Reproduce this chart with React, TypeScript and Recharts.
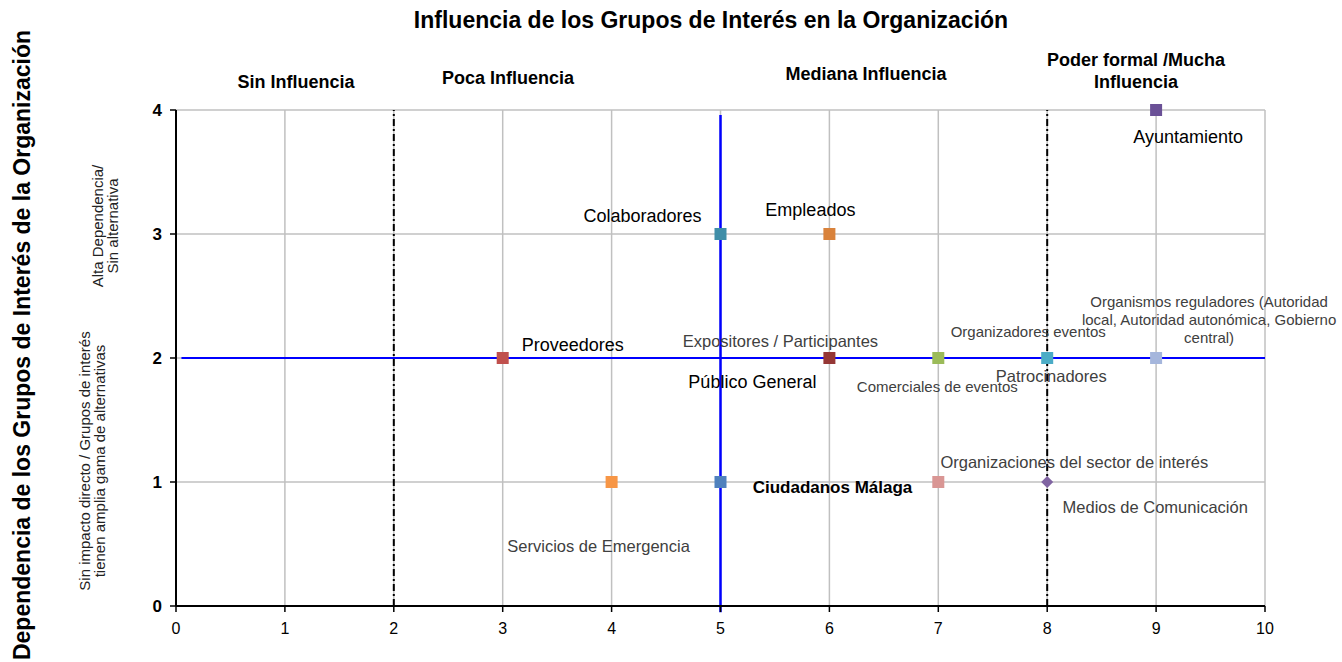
import {
  ScatterChart,
  Scatter,
  XAxis,
  YAxis,
  CartesianGrid,
  ReferenceLine,
} from "recharts";

// Puntos del gráfico (influencia, dependencia)
const grupos = [
  "Ayuntamiento",
  "Colaboradores",
  "Empleados",
  "Proveedores",
  "Público General",
  "Comerciales de eventos",
  "Patrocinadores",
  "Organismos reguladores",
  "Servicios de Emergencia",
  "Ciudadanos Málaga",
  "Organizaciones del sector de interés",
  "Medios de Comunicación",
];
const influencia = [9, 5, 6, 3, 6, 7, 8, 9, 4, 5, 7, 8];
const dependencia = [4, 3, 3, 2, 2, 2, 2, 2, 1, 1, 1, 1];
const colores = [
  "#6a5096",
  "#3f8ea8",
  "#d9823b",
  "#c0504d",
  "#953735",
  "#9bbb59",
  "#4bacc6",
  "#a5b6dc",
  "#f79646",
  "#4f81bd",
  "#d99694",
  "#8064a2",
];
const formas = ["sq", "sq", "sq", "sq", "sq", "sq", "sq", "sq", "sq", "sq", "sq", "diamond"];

// Etiquetas de texto ancladas a un punto
const etiquetas = [
  "Ayuntamiento",
  "Colaboradores",
  "Empleados",
  "Proveedores",
  "Expositores / Participantes",
  "Público General",
  "Comerciales de eventos",
  "Organizadores eventos",
  "Patrocinadores",
  "Organismos reguladores (Autoridad\nlocal, Autoridad autonómica, Gobierno\ncentral)",
  "Servicios de Emergencia",
  "Ciudadanos Málaga",
  "Organizaciones del sector de interés",
  "Medios de Comunicación",
];
const etiquetaX = [9, 5, 6, 3, 6, 6, 7, 8, 8, 9, 4, 5, 7, 8];
const etiquetaY = [4, 3, 3, 2, 2, 2, 2, 2, 2, 2, 1, 1, 1, 1];

// desplazamiento en px, tamaño y estilo de cada etiqueta
const etiquetaLayout = [
  { dx: 32, dy: 27, size: 18, tono: "negro" },
  { dx: -78, dy: -18, size: 18, tono: "negro" },
  { dx: -19, dy: -24, size: 18, tono: "negro" },
  { dx: 70, dy: -13, size: 18, tono: "negro" },
  { dx: -49, dy: -17, size: 16.5, tono: "gris" },
  { dx: -77, dy: 24, size: 18, tono: "negro" },
  { dx: -1, dy: 28, size: 15, tono: "gris" },
  { dx: -19, dy: -27, size: 15, tono: "gris" },
  { dx: 4, dy: 18, size: 16.5, tono: "gris" },
  { dx: 53, dy: -39, size: 15, tono: "gris" },
  { dx: -13, dy: 64, size: 16.5, tono: "gris" },
  { dx: 112, dy: 5, size: 17, tono: "negrita" },
  { dx: 136, dy: -20, size: 16.5, tono: "gris" },
  { dx: 108, dy: 25, size: 16.5, tono: "gris" },
];

const xTicks = [0, 1, 2, 3, 4, 5, 6, 7, 8, 9, 10];
const yTicks = [0, 1, 2, 3, 4];

const cabeceras = [
  { texto: "Sin Influencia", x: 296, y: 82 },
  { texto: "Poca Influencia", x: 508, y: 78 },
  { texto: "Mediana Influencia", x: 866, y: 74 },
  { texto: "Poder formal /Mucha\nInfluencia", x: 1136, y: 71 },
];

const FONT = "'Liberation Sans', Arial, sans-serif";

const puntos = grupos.map((name, i) => ({
  name,
  x: influencia[i],
  y: dependencia[i],
  color: colores[i],
  forma: formas[i],
}));

const textos = etiquetas.map((texto, i) => ({
  texto,
  x: etiquetaX[i],
  y: etiquetaY[i],
  ...etiquetaLayout[i],
}));

const Punto = (props: any) => {
  const { cx, cy, payload } = props;
  if (payload.forma === "diamond") {
    const r = 6;
    return (
      <path
        d={`M${cx},${cy - r}L${cx + r},${cy}L${cx},${cy + r}L${cx - r},${cy}Z`}
        fill={payload.color}
      />
    );
  }
  return <rect x={cx - 6} y={cy - 6} width={12} height={12} fill={payload.color} />;
};

const Etiqueta = (props: any) => {
  const { cx, cy, payload } = props;
  const lineas = payload.texto.split("\n");
  const lh = 18;
  const y0 = cy + payload.dy - ((lineas.length - 1) * lh) / 2;
  const gris = payload.tono === "gris";
  const negrita = payload.tono === "negrita";
  return (
    <text
      x={cx + payload.dx}
      y={y0}
      textAnchor="middle"
      dominantBaseline="central"
      fontFamily={FONT}
      fontSize={payload.size}
      fontWeight={negrita ? "bold" : "normal"}
      fill={gris ? "#404040" : "#000"}
    >
      {lineas.map((l: string, i: number) => (
        <tspan key={i} x={cx + payload.dx} y={y0 + i * lh}>
          {l}
        </tspan>
      ))}
    </text>
  );
};

export default function App() {
  return (
    <div
      style={{
        position: "absolute",
        left: 0,
        top: 0,
        width: 1342,
        height: 662,
        background: "#fff",
        fontFamily: FONT,
        overflow: "hidden",
      }}
    >
      <div
        style={{
          position: "absolute",
          left: 711,
          top: 20,
          transform: "translate(-50%, -50%)",
          whiteSpace: "nowrap",
          fontSize: 23,
          fontWeight: "bold",
        }}
      >
        Influencia de los Grupos de Interés en la Organización
      </div>
      {cabeceras.map((c, i) => (
        <div
          key={i}
          style={{
            position: "absolute",
            left: c.x,
            top: c.y,
            transform: "translate(-50%, -50%)",
            whiteSpace: "pre",
            textAlign: "center",
            fontSize: 18,
            fontWeight: "bold",
            lineHeight: "22px",
          }}
        >
          {c.texto}
        </div>
      ))}
      <div
        style={{
          position: "absolute",
          left: 22,
          top: 345,
          transform: "translate(-50%, -50%) rotate(-90deg)",
          whiteSpace: "nowrap",
          fontSize: 23,
          fontWeight: "bold",
        }}
      >
        Dependencia de los Grupos de Interés de la Organización
      </div>
      <div
        style={{
          position: "absolute",
          left: 105,
          top: 226,
          transform: "translate(-50%, -50%) rotate(-90deg)",
          whiteSpace: "pre",
          textAlign: "center",
          fontSize: 15,
          lineHeight: "15px",
          color: "#222",
        }}
      >
        {"Alta Dependencia/\nSin alternativa"}
      </div>
      <div
        style={{
          position: "absolute",
          left: 92,
          top: 461,
          transform: "translate(-50%, -50%) rotate(-90deg)",
          whiteSpace: "pre",
          textAlign: "center",
          fontSize: 15,
          lineHeight: "15px",
          color: "#222",
        }}
      >
        {"Sin impacto directo / Grupos de interés\ntienen amplia gama de alternativas"}
      </div>

      <ScatterChart
        width={1342}
        height={662}
        margin={{ top: 110, right: 77, bottom: 26, left: 146 }}
        style={{ position: "absolute", left: 0, top: 0 }}
      >
        <CartesianGrid stroke="#c0c0c0" strokeWidth={1.5} />
        <XAxis
          type="number"
          dataKey="x"
          domain={[0, 10]}
          ticks={xTicks}
          interval={0}
          height={30}
          tickSize={6}
          tickMargin={11}
          axisLine={{ stroke: "#000", strokeWidth: 2 }}
          tickLine={{ stroke: "#000", strokeWidth: 1.5 }}
          tick={{ fill: "#000", fontSize: 16, fontFamily: FONT }}
        />
        <YAxis
          type="number"
          dataKey="y"
          domain={[0, 4]}
          ticks={yTicks}
          interval={0}
          width={30}
          tickSize={6}
          tickMargin={8}
          axisLine={{ stroke: "#000", strokeWidth: 2 }}
          tickLine={{ stroke: "#000", strokeWidth: 1.5 }}
          tick={{ fill: "#000", fontSize: 17, fontWeight: "bold", fontFamily: FONT }}
        />
        <ReferenceLine x={2} stroke="#000" strokeWidth={2} strokeDasharray="7 3 2 3" />
        <ReferenceLine x={8} stroke="#000" strokeWidth={2} strokeDasharray="7 3 2 3" />
        <Scatter data={puntos} shape={Punto} isAnimationActive={false} />
        <ReferenceLine
          segment={[
            { x: 0.05, y: 2 },
            { x: 10, y: 2 },
          ]}
          stroke="#0000ff"
          strokeWidth={2}
          ifOverflow="visible"
        />
        <ReferenceLine
          segment={[
            { x: 5, y: 3.96 },
            { x: 5, y: -0.05 },
          ]}
          stroke="#0000ff"
          strokeWidth={2.5}
          ifOverflow="visible"
        />
        <Scatter data={textos} shape={Etiqueta} isAnimationActive={false} />
      </ScatterChart>
    </div>
  );
}
